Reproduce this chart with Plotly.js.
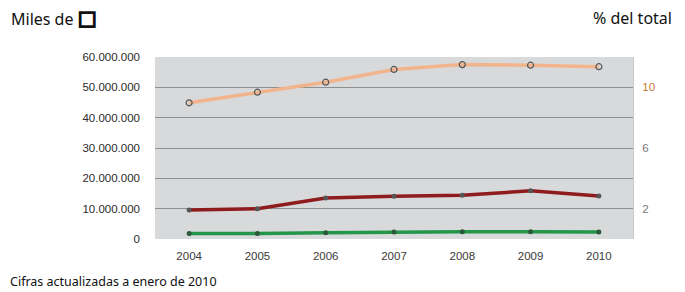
<!DOCTYPE html>
<html>
<head>
<meta charset="utf-8">
<script src="https://cdn.plot.ly/plotly-3.0.1.min.js"></script>
<style>html,body{margin:0;padding:0;background:#fff;}#chart{width:685px;height:292px;}</style>
</head>
<body>
<div id="chart"></div>
<script>
const years = ['2004','2005','2006','2007','2008','2009','2010'];
const seriesTop = [44900000, 48400000, 51700000, 55900000, 57500000, 57300000, 56800000];
const seriesMid = [9600000, 10000000, 13500000, 14100000, 14400000, 15900000, 14200000];
const seriesLow = [1800000, 1800000, 2100000, 2300000, 2400000, 2400000, 2300000];
const leftTicks = [0, 10000000, 20000000, 30000000, 40000000, 50000000, 60000000];
const rightTickVals = [2, 6, 10];
const rightTickText = ['2', '6', '<span style="color:#c4782f">10</span>'];

const markerStyle = {symbol: 'circle-open', size: 6, color: '#555', line: {width: 1.2, color: '#555'}};
const traces = [
  {x: years, y: seriesTop, type: 'scatter', mode: 'lines+markers', line: {color: '#f2b48c', width: 3.5}, marker: markerStyle, hoverinfo: 'skip'},
  {x: years, y: seriesMid, type: 'scatter', mode: 'lines+markers', line: {color: '#8e1b1e', width: 3.5}, marker: {symbol: 'circle', size: 5, color: '#555'}, hoverinfo: 'skip'},
  {x: years, y: seriesLow, type: 'scatter', mode: 'lines+markers', line: {color: '#23964a', width: 3.5}, marker: {symbol: 'circle', size: 5, color: '#2b5a3a'}, hoverinfo: 'skip'},
  {x: years, y: [null,null,null,null,null,null,null], yaxis: 'y2', type: 'scatter', mode: 'lines', showlegend: false, hoverinfo: 'skip'}
];

const layout = {
  width: 685, height: 292,
  margin: {l: 155, r: 52, t: 57, b: 53},
  paper_bgcolor: '#ffffff',
  plot_bgcolor: '#d8d9db',
  showlegend: false,
  separators: ',.',
  xaxis: {
    type: 'category', range: [-0.5, 6.5],
    showgrid: false, zeroline: false, showline: false,
    ticks: '', ticklabelstandoff: 8,
    tickfont: {family: 'Liberation Sans, Arial', size: 11.5, color: '#3a3a3a'}
  },
  yaxis: {
    range: [0, 60000000], tickvals: leftTicks, tickformat: ',d',
    showgrid: true, gridcolor: '#8e8f91', gridwidth: 1,
    zeroline: false, showline: false, ticks: '', ticklabelstandoff: 14,
    tickfont: {family: 'Liberation Sans, Arial', size: 11.5, color: '#2a2a2a'}
  },
  yaxis2: {
    overlaying: 'y', side: 'right', range: [0, 12],
    tickvals: rightTickVals, ticktext: rightTickText,
    showgrid: false, zeroline: false, showline: true, linecolor: '#c8c9cb', linewidth: 1,
    ticks: '', ticklabelstandoff: 6,
    tickfont: {family: 'Liberation Sans, Arial', size: 11.5, color: '#777'}
  },
  annotations: [
    {text: 'Miles de <span style="font-family:DejaVu Sans;font-size:20px;stroke:#111;stroke-width:1.6">□</span>', xref: 'paper', yref: 'paper', showarrow: false,
     xanchor: 'left', yanchor: 'middle', font: {family: 'Noto Sans', size: 16, color: '#111'}},
    {text: '% del total', xref: 'paper', yref: 'paper', showarrow: false,
     xanchor: 'right', yanchor: 'middle', font: {family: 'Noto Sans', size: 16, color: '#111'}},
    {text: 'Cifras actualizadas a enero de 2010', xref: 'paper', yref: 'paper', showarrow: false,
     xanchor: 'left', yanchor: 'middle', font: {family: 'Noto Sans', size: 12.5, color: '#111'}}
  ]
};
const plotW = 685 - 155 - 52, plotH = 292 - 57 - 53;
function px(x) { return (x - 155) / plotW; }
function py(y) { return (292 - 53 - y) / plotH; }
layout.annotations[0].x = px(9); layout.annotations[0].y = py(18);
layout.annotations[1].x = px(674); layout.annotations[1].y = py(18);
layout.annotations[2].x = px(8); layout.annotations[2].y = py(281);

Plotly.newPlot('chart', traces, layout, {displayModeBar: false, staticPlot: true});
</script>
</body>
</html>
